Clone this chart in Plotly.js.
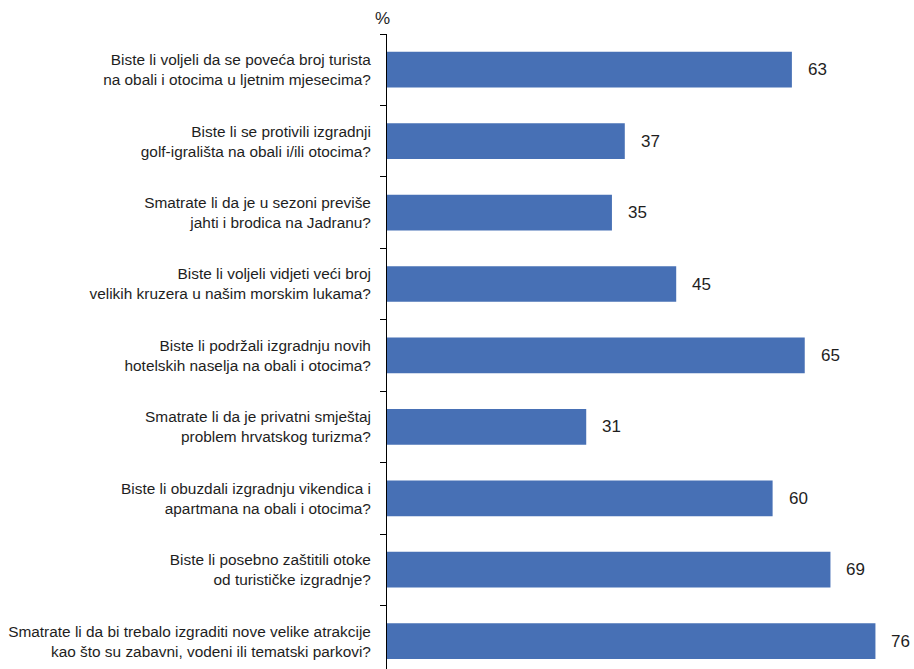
<!DOCTYPE html>
<html>
<head>
<meta charset="utf-8">
<script src="https://cdn.plot.ly/plotly-3.0.1.min.js"></script>
<style>html,body{margin:0;padding:0;background:#fff;overflow:hidden}</style>
</head>
<body>
<div id="chart" style="width:914px;height:669px"></div>
<script>
const questions = [
  "Biste li voljeli da se poveća broj turista<br>na obali i otocima u ljetnim mjesecima?",
  "Biste li se protivili izgradnji<br>golf-igrališta na obali i/ili otocima?",
  "Smatrate li da je u sezoni previše<br>jahti i brodica na Jadranu?",
  "Biste li voljeli vidjeti veći broj<br>velikih kruzera u našim morskim lukama?",
  "Biste li podržali izgradnju novih<br>hotelskih naselja na obali i otocima?",
  "Smatrate li da je privatni smještaj<br>problem hrvatskog turizma?",
  "Biste li obuzdali izgradnju vikendica i<br>apartmana na obali i otocima?",
  "Biste li posebno zaštitili otoke<br>od turističke izgradnje?",
  "Smatrate li da bi trebalo izgraditi nove velike atrakcije<br>kao što su zabavni, vodeni ili tematski parkovi?"
];
const percentages = [63, 37, 35, 45, 65, 31, 60, 69, 76];
const unitLabel = "%";

const FONT = "Liberation Sans, Arial, sans-serif";
const trace = {
  type: "bar",
  orientation: "h",
  x: percentages,
  y: questions,
  width: 0.5,
  marker: {color: "#4770b5"},
  hoverinfo: "x+y"
};

const annotations = percentages.map((v, i) => ({
  x: v, y: questions[i], xref: "x", yref: "y",
  text: String(v), showarrow: false, xanchor: "left", yanchor: "middle",
  xshift: 14, font: {family: FONT, size: 17, color: "#1e1e1e"}
}));
annotations.push({
  x: 0, y: 1, xref: "x", yref: "paper", text: unitLabel, showarrow: false,
  xanchor: "center", yanchor: "bottom", xshift: -5, yshift: 4,
  font: {family: FONT, size: 17, color: "#1e1e1e"}
});

const layout = {
  width: 914, height: 669,
  margin: {l: 387, r: 0, t: 34, b: 0, pad: 0},
  paper_bgcolor: "#fff", plot_bgcolor: "#fff",
  showlegend: false,
  font: {family: FONT, color: "#1e1e1e"},
  xaxis: {
    range: [0, 82], visible: false, showgrid: false, zeroline: false, fixedrange: true
  },
  yaxis: {
    type: "category",
    range: [8.39, -0.5],
    showline: true, linecolor: "#000", linewidth: 1,
    ticks: "outside", tickson: "boundaries", ticklen: 6, tickcolor: "#000", tickwidth: 1,
    ticklabelstandoff: 12,
    tickfont: {family: FONT, size: 15.4, color: "#1e1e1e"},
    showgrid: false, zeroline: false, fixedrange: true
  },
  annotations: annotations
};

Plotly.newPlot("chart", [trace], layout, {displayModeBar: false, staticPlot: true});
</script>
</body>
</html>
